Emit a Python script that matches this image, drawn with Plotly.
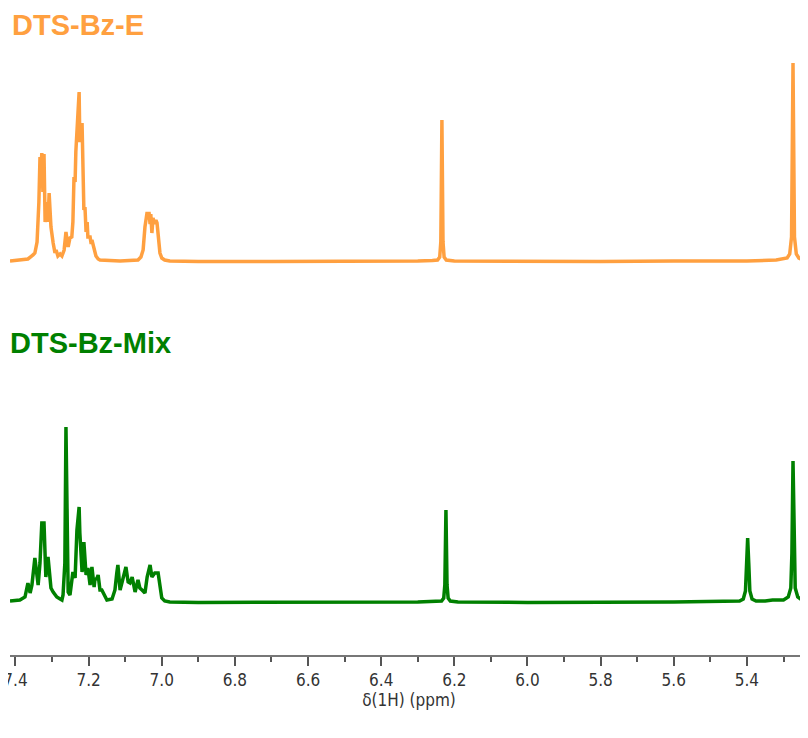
import plotly.graph_objects as go

# ---- data (ppm, intensity in arbitrary units) ----
e_ppm = [7.415, 7.388, 7.366, 7.352, 7.347, 7.341, 7.336, 7.333, 7.330, 7.328, 7.325, 7.322,
         7.319, 7.317, 7.314, 7.311, 7.308, 7.303, 7.297, 7.292, 7.289, 7.284, 7.278, 7.273,
         7.267, 7.262, 7.259, 7.256, 7.251, 7.246, 7.243, 7.240, 7.237, 7.235, 7.229, 7.226,
         7.224, 7.221, 7.218, 7.215, 7.213, 7.210, 7.207, 7.204, 7.202, 7.196, 7.193, 7.191,
         7.185, 7.180, 7.174, 7.169, 7.114, 7.065, 7.057, 7.051, 7.046, 7.040, 7.038, 7.035,
         7.032, 7.030, 7.027, 7.024, 7.019, 7.016, 7.013, 7.010, 7.005, 7.000, 6.992, 6.978,
         6.900, 6.700, 6.500, 6.300, 6.260, 6.246, 6.240, 6.237, 6.234, 6.231, 6.228, 6.222,
         6.200, 6.000, 5.800, 5.600, 5.400, 5.320, 5.290, 5.283, 5.278, 5.274, 5.270, 5.265,
         5.258, 5.245, 5.233]
e_int = [1, 2, 3, 7, 9, 20, 60, 105, 95, 109, 70, 108,
         40, 45, 60, 40, 69, 35, 19, 9, 12, 6, 8, 6,
         12, 30, 22, 15, 24, 25, 40, 85, 80, 110, 150, 170,
         120, 125, 139, 100, 52, 55, 30, 40, 25, 25, 18, 22,
         12, 6, 3, 2, 1, 2, 5, 12, 35, 50, 44, 50,
         38, 48, 29, 44, 38, 42, 39, 25, 9, 4, 2, 1,
         0.5, 0.5, 0.5, 1, 1.5, 2, 5, 20, 142, 20, 5, 2,
         1, 0.5, 0.5, 1, 1, 2, 4, 8, 25, 199, 25, 8,
         4, 2, 1]

mix_ppm = [7.415, 7.388, 7.374, 7.366, 7.360, 7.355, 7.347, 7.338, 7.333, 7.328, 7.322, 7.317,
           7.311, 7.303, 7.297, 7.287, 7.278, 7.273, 7.270, 7.265, 7.262, 7.259, 7.256, 7.251,
           7.243, 7.237, 7.232, 7.226, 7.224, 7.218, 7.215, 7.213, 7.207, 7.202, 7.196, 7.191,
           7.185, 7.183, 7.177, 7.174, 7.169, 7.164, 7.150, 7.136, 7.128, 7.123, 7.120, 7.114,
           7.106, 7.098, 7.092, 7.087, 7.081, 7.073, 7.065, 7.060, 7.054, 7.046, 7.040, 7.032,
           7.027, 7.019, 7.010, 7.005, 7.000, 6.992, 6.978, 6.900, 6.700, 6.500, 6.300, 6.235,
           6.229, 6.226, 6.223, 6.220, 6.217, 6.211, 6.190, 6.000, 5.800, 5.600, 5.420, 5.410,
           5.404, 5.400, 5.398, 5.395, 5.392, 5.386, 5.375, 5.350, 5.330, 5.300, 5.287, 5.280,
           5.277, 5.274, 5.271, 5.268, 5.261, 5.250, 5.233]
mix_int = [2, 3, 6, 20, 10, 18, 45, 18, 40, 80, 80, 26,
           46, 15, 11, 6, 4, 3, 8, 40, 176, 40, 11, 8,
           31, 25, 73, 96, 70, 31, 40, 61, 28, 35, 18, 36,
           16, 23, 25, 28, 13, 13, 3, 4, 13, 30, 38, 13,
           23, 36, 21, 20, 26, 11, 23, 15, 13, 10, 26, 38,
           26, 30, 30, 15, 5, 2, 1, 0.5, 0.5, 0.5, 1, 2,
           5, 18, 93, 18, 5, 2, 1, 0.5, 0.5, 1, 2, 4,
           12, 40, 65, 40, 12, 4, 2, 2, 3, 3, 6, 15,
           50, 142, 50, 15, 6, 3, 2]

names = ["DTS-Bz-E", "DTS-Bz-Mix"]
tick_vals = [7.4, 7.2, 7.0, 6.8, 6.6, 6.4, 6.2, 6.0, 5.8, 5.6, 5.4]

# ---- styling ----
ORANGE = "rgb(255,160,64)"
GREEN = "rgb(0,128,0)"
OFFSET_E = 341  # vertical stacking offset of the upper spectrum
FONT_AX = "DejaVu Sans Condensed, DejaVu Sans"

fig = go.Figure()
fig.add_trace(go.Scatter(x=e_ppm, y=[v + OFFSET_E for v in e_int], mode="lines",
                         line=dict(color=ORANGE, width=3.5), name=names[0],
                         hoverinfo="skip"))
fig.add_trace(go.Scatter(x=mix_ppm, y=mix_int, mode="lines",
                         line=dict(color=GREEN, width=3.5), name=names[1],
                         hoverinfo="skip"))

fig.add_annotation(text="<b>%s</b>" % names[0], xref="paper", yref="paper", x=0, y=1,
                   xanchor="left", yanchor="middle", xshift=0, yshift=15, showarrow=False,
                   font=dict(family="Liberation Sans, Arial", size=29, color=ORANGE))
fig.add_annotation(text="<b>%s</b>" % names[1], xref="paper", yref="y", x=0, y=260,
                   xanchor="left", yanchor="middle", xshift=-2, showarrow=False,
                   font=dict(family="Liberation Sans, Arial", size=29, color=GREEN))

fig.update_layout(
    width=800, height=730,
    margin=dict(l=2, r=0, t=32, b=83, autoexpand=False),
    paper_bgcolor="white", plot_bgcolor="white",
    showlegend=False,
    xaxis=dict(range=[7.415, 5.233], tickvals=tick_vals, ticktext=["%.1f" % v for v in tick_vals],
               ticks="outside", ticklen=9, tickwidth=1.5, tickcolor="#555",
               showline=True, linecolor="#777", linewidth=2, automargin=False,
               showgrid=False, zeroline=False, ticklabeloverflow="allow",
               minor=dict(dtick=0.1, tick0=0, ticks="outside", ticklen=5, tickwidth=1.5, tickcolor="#555"),
               tickfont=dict(family=FONT_AX, size=17, color="#333"),
               title=dict(text="δ(1H) (ppm)", standoff=2,
                          font=dict(family=FONT_AX, size=17, color="#333"))),
    yaxis=dict(range=[-52, 563], visible=False, showgrid=False, zeroline=False),
)

fig.write_html("out.html")
